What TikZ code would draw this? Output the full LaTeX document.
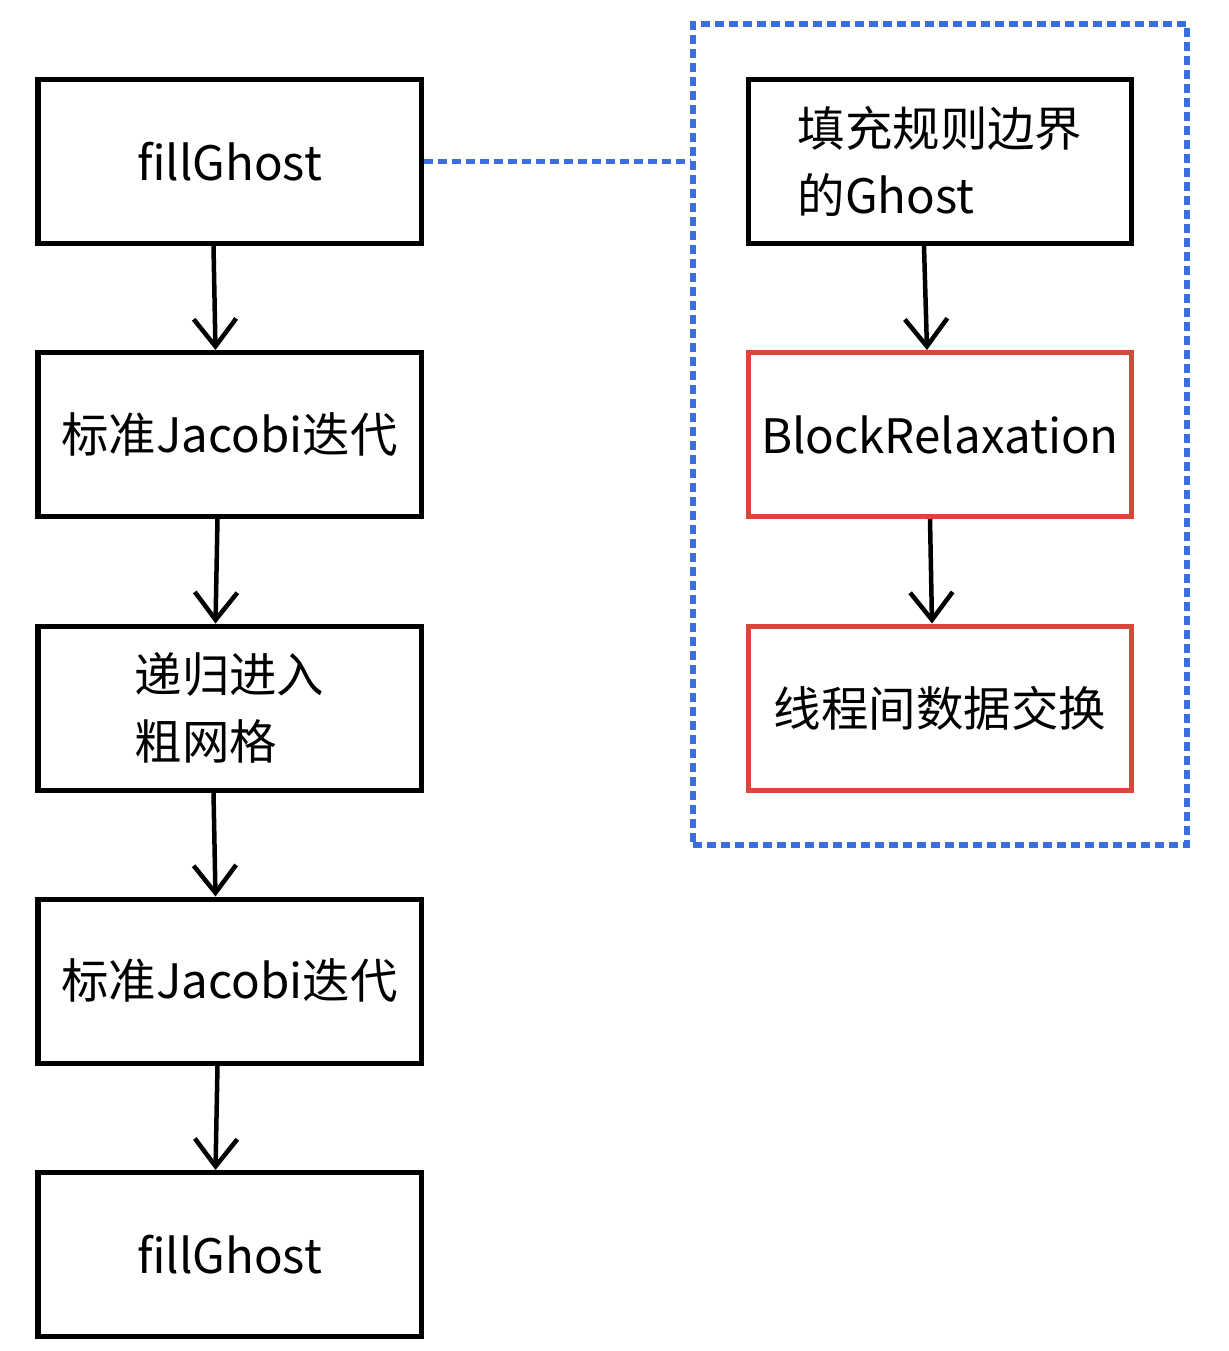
\documentclass[tikz,border=0pt]{standalone}
\usepackage{fontspec}
\setmainfont{Noto Sans CJK SC}
\usetikzlibrary{arrows.meta}
\definecolor{boxred}{HTML}{D9473A}
\definecolor{lineblue}{HTML}{3B6FE0}
\begin{document}
\begin{tikzpicture}[
  box/.style={shape=rectangle,draw=black,line width=0.1cm,minimum width=7.66cm,minimum height=3.28cm,inner sep=0pt,align=left,font=\fontsize{27pt}{38pt}\selectfont},
  redbox/.style={box,draw=boxred},
  flow/.style={line width=0.09cm,-{Straight Barb[length=0.55cm,width=0.85cm,line width=0.09cm]}},
  link/.style={draw=lineblue,line width=0.11cm,dash pattern=on 0.18cm off 0.1cm}]
\useasboundingbox (0,0) rectangle (24.56,-27.02);
\node[box] (g1) at (4.59,-3.23) {fillGhost};
\node[box] (j1) at (4.59,-8.69) {标准Jacobi迭代};
\node[box] (rec) at (4.59,-14.16) {递归进入\\粗网格};
\node[box] (j2) at (4.59,-19.62) {标准Jacobi迭代};
\node[box] (g2) at (4.59,-25.09) {fillGhost};
\node[box] (fill) at (18.8,-3.23) {填充规则边界\\的Ghost};
\node[redbox] (relax) at (18.8,-8.69) {BlockRelaxation};
\node[redbox] (swap) at (18.8,-14.16) {线程间数据交换};
\node[shape=rectangle,link,minimum width=9.88cm,minimum height=16.42cm] (detail) at (18.8,-8.69) {};
\draw[flow] ([xshift=-0.32cm]g1.south) -- ([xshift=-0.28cm]j1.north);
\draw[flow] ([xshift=-0.24cm]j1.south) -- ([xshift=-0.28cm]rec.north);
\draw[flow] ([xshift=-0.32cm]rec.south) -- ([xshift=-0.28cm]j2.north);
\draw[flow] ([xshift=-0.24cm]j2.south) -- ([xshift=-0.28cm]g2.north);
\draw[flow] ([xshift=-0.32cm]fill.south) -- ([xshift=-0.26cm]relax.north);
\draw[flow] ([xshift=-0.2cm]relax.south) -- ([xshift=-0.16cm]swap.north);
\draw[link] (g1.east) -- (detail.west |- g1.east);
\end{tikzpicture}
\end{document}
